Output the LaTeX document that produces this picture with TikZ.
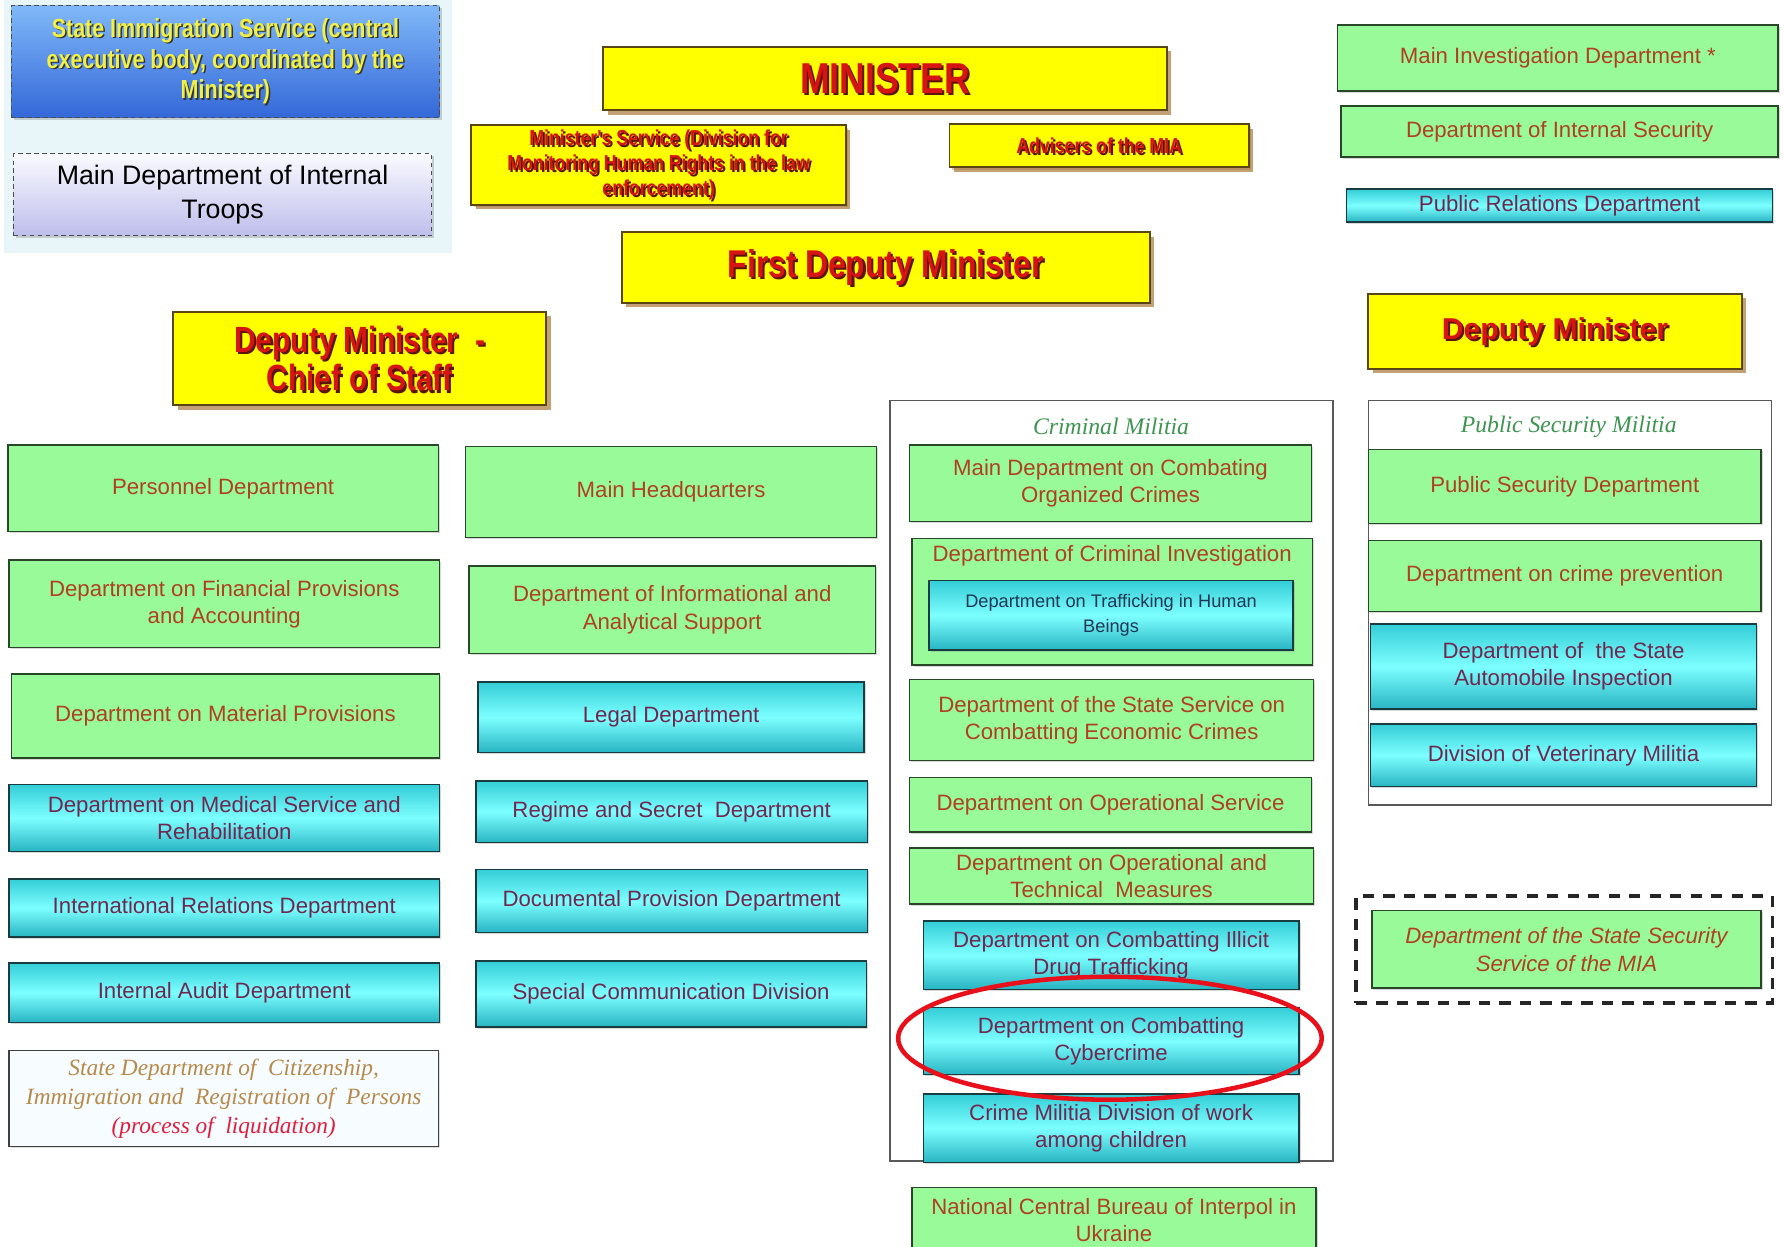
\documentclass[tikz,border=0pt]{standalone}
\usepackage{fontspec}
\setmainfont{Liberation Sans}
\newfontfamily\condf{Liberation Sans}[FakeStretch=0.82]
\newfontfamily\serf{Liberation Serif}
\usetikzlibrary{shadows,shapes.geometric}
\definecolor{grfill}{RGB}{152,250,152}
\definecolor{grline}{RGB}{40,70,40}
\definecolor{grtxt}{RGB}{176,64,32}
\definecolor{cytop}{RGB}{52,205,215}
\definecolor{cymid}{RGB}{125,255,255}
\definecolor{cybot}{RGB}{40,180,195}
\definecolor{cyline}{RGB}{25,60,65}
\definecolor{cytxt}{RGB}{112,40,80}
\definecolor{tbtxt}{RGB}{30,55,85}
\definecolor{ylfill}{RGB}{255,255,0}
\definecolor{ylline}{RGB}{90,70,20}
\definecolor{ylshadow}{RGB}{170,120,60}
\definecolor{titlered}{RGB}{215,20,20}
\definecolor{tshadow}{RGB}{90,20,10}
\definecolor{panel}{RGB}{232,246,250}
\definecolor{sistop}{RGB}{128,184,248}
\definecolor{sisbot}{RGB}{52,104,216}
\definecolor{sistxt}{RGB}{240,240,70}
\definecolor{trtop}{RGB}{250,250,255}
\definecolor{trbot}{RGB}{190,190,236}
\definecolor{mlgreen}{RGB}{60,150,80}
\definecolor{sdctan}{RGB}{184,138,74}
\definecolor{sdcred}{RGB}{225,30,60}
\definecolor{sdcfill}{RGB}{246,252,255}
\definecolor{ellred}{RGB}{232,16,26}
\newcommand\fsz[2]{\fontsize{#1}{#2}\selectfont}
% #1 style, #2 name, #3 x1, #4 y1, #5 x2, #6 y2, #7 text
\newcommand\bx[7]{\node[#1, anchor=north west, minimum width={(#5-#3)*1pt}, minimum height={(#6-#4)*1pt}] (#2) at (#3,#4) {#7};}
% yellow title box: #1 extra, #2 name, #3-#6 coords, #7 font, #8 text
\newcommand\ybx[8]{%
  \node[ylw, #1, anchor=north west, minimum width={(#5-#3)*1pt}, minimum height={(#6-#4)*1pt}] (#2) at (#3,#4) {};
  \node[font={#7}, text=tshadow, align=center, inner sep=0pt] (#2-s) at ([shift={(1.8pt,-1.8pt)}]#2.center) {#8};
  \node[font={#7}, text=titlered, align=center, inner sep=0pt] (#2-t) at (#2.center) {#8};}
\begin{document}
\begin{tikzpicture}[x=1pt,y=-1pt,
  base/.style={draw, rectangle, inner sep=2pt, outer sep=0pt, align=center, line width=1.3pt},
  grn/.style={base, fill=grfill, draw=grline, text=grtxt, font=\fsz{19.5}{24},
    drop shadow={shadow xshift=1.5pt, shadow yshift=-1.5pt, opacity=.3}},
  cyn/.style={base, draw=cyline, top color=cytop, bottom color=cybot, middle color=cymid,
    text=cytxt, font=\fsz{19.5}{24},
    drop shadow={shadow xshift=1.5pt, shadow yshift=-1.5pt, opacity=.3}},
  ylw/.style={base, fill=ylfill, draw=ylline, line width=1.8pt,
    drop shadow={shadow xshift=4pt, shadow yshift=-4pt, fill=ylshadow, opacity=.7}},
  cont/.style={base, draw=black!65, fill=white, line width=1.3pt},
  dcont/.style={base, draw=black!85, line width=3pt, dash pattern=on 10pt off 8pt},
  mlabel/.style={text=mlgreen, font=\serf\itshape\fsz{20.8}{24}, inner sep=0pt},
]
\useasboundingbox[fill=white] (0,0) rectangle (1568,1095);

% top-left panel
\bx{draw=none, fill=panel, inner sep=0pt}{panel}{3}{0}{397}{222}{}
\bx{base, draw=black!70, dash pattern=on 4pt off 3pt, top color=sistop, bottom color=sisbot,
    drop shadow={shadow xshift=2pt, shadow yshift=-2pt, opacity=.35}}{sis}{10}{5}{386}{103}{}
\node[font=\condf\bfseries\fsz{23}{27}, text=black!80, align=center, inner sep=0pt] (sis-s) at ([shift={(1.3pt,-1.3pt)}]sis.center) {State Immigration Service (central\\executive body, coordinated by the\\Minister)};
\node[font=\condf\bfseries\fsz{23}{27}, text=sistxt, align=center, inner sep=0pt] (sis-t) at (sis.center) {State Immigration Service (central\\executive body, coordinated by the\\Minister)};
\bx{base, draw=black!70, dash pattern=on 4pt off 3pt, top color=trtop, bottom color=trbot, text=black,
    font=\fsz{23.5}{30}, drop shadow={shadow xshift=2pt, shadow yshift=-2pt, opacity=.35}}{troops}{12}{135}{379}{207}{Main Department of Internal\\Troops}

% yellow title boxes
\ybx{}{minister}{530}{41}{1025}{97}{\condf\bfseries\fsz{38}{40}}{MINISTER}
\ybx{line width=1.5pt, drop shadow={shadow xshift=2pt, shadow yshift=-2pt, fill=ylshadow, opacity=.4}}{msvc}{414}{110}{743}{180}{\condf\bfseries\fsz{19}{22}}{Minister's Service (Division for\\Monitoring Human Rights in the law\\enforcement)}
\ybx{line width=1.5pt, drop shadow={shadow xshift=2pt, shadow yshift=-2pt, fill=ylshadow, opacity=.4}}{adv}{834}{109}{1097}{147}{\condf\bfseries\fsz{19}{22}}{Advisers of the MIA}
\ybx{}{fdm}{546}{204}{1010}{266}{\condf\bfseries\fsz{34}{36}}{First Deputy Minister}
\ybx{}{dmcs}{152}{274}{480}{356}{\condf\bfseries\fsz{32}{34}}{Deputy Minister\ \ -\\Chief of Staff}
\ybx{}{dm}{1202}{258}{1530}{324}{\bfseries\fsz{26.5}{30}}{Deputy Minister}

% top right
\bx{grn}{mid}{1175}{22}{1562}{80}{Main Investigation Department *}
\bx{grn}{dis}{1178}{93}{1562}{138}{Department of Internal Security}
\bx{cyn}{prd}{1183}{166}{1557}{195}{Public Relations Department}

% left column
\bx{grn}{pers}{7}{391}{385}{467}{Personnel Department}
\bx{grn}{fin}{8}{492}{386}{569}{Department on Financial Provisions\\and Accounting}
\bx{grn}{mat}{10}{592}{386}{666}{Department on Material Provisions}
\bx{cyn}{med}{8}{689}{386}{748}{Department on Medical Service and\\Rehabilitation}
\bx{cyn}{intl}{8}{772}{386}{823}{International Relations Department}
\bx{cyn}{audit}{8}{846}{386}{898}{Internal Audit Department}
\bx{base, draw=black!75, fill=sdcfill, font=\serf\itshape\fsz{20.5}{25.5}, text=sdctan,
    drop shadow={shadow xshift=1.5pt, shadow yshift=-1.5pt, opacity=.25}}{sdc}{8}{923}{385}{1007}{State Department of\ \ Citizenship,\\Immigration and\ \ Registration of\ \ Persons\\\textcolor{sdcred}{(process of\ \ liquidation)}}

% middle column
\bx{grn}{mhq}{409}{392}{770}{472}{Main Headquarters}
\bx{grn}{info}{412}{497}{769}{574}{Department of Informational and\\Analytical Support}
\bx{cyn}{legal}{420}{599}{759}{661}{Legal Department}
\bx{cyn}{regime}{418}{686}{762}{740}{Regime and Secret\ \ Department}
\bx{cyn}{docp}{418}{764}{762}{819}{Documental Provision Department}
\bx{cyn}{spec}{418}{844}{761}{902}{Special Communication Division}

% criminal militia
\bx{cont}{crim}{782}{352}{1171}{1020}{}
\node[mlabel] (crimlbl) at (976,375) {Criminal Militia};
\bx{grn}{oc}{799}{391}{1152}{458}{Main Department on Combating\\Organized Crimes}
\bx{grn}{ci}{801}{473}{1153}{584}{}
\node[text=grtxt, font=\fsz{19.5}{24}, inner sep=0pt] (citxt) at (977,488) {Department of Criminal Investigation};
\bx{cyn, font=\fsz{16}{22}, text=tbtxt}{thb}{816}{510}{1136}{571}{Department on Trafficking in Human\\Beings}
\bx{grn}{econ}{799}{597}{1154}{668}{Department of the State Service on\\Combatting Economic Crimes}
\bx{grn}{ops}{799}{683}{1152}{731}{Department on Operational Service}
\bx{grn}{otm}{799}{745}{1154}{794}{Department on Operational and\\Technical\ \ Measures}
\bx{cyn}{drug}{811}{809}{1141}{869}{Department on Combatting Illicit\\Drug Trafficking}
\bx{cyn}{cyber}{811}{885}{1141}{944}{Department on Combatting\\Cybercrime}
\bx{cyn}{child}{811}{961}{1141}{1021}{Crime Militia\ Division of work\\among children}
\bx{grn}{interpol}{801}{1043}{1156}{1100}{National Central Bureau of Interpol in\\Ukraine}

% public security militia
\bx{cont}{pubs}{1202}{352}{1556}{707}{}
\node[mlabel] (pslbl) at (1378,375) {Public Security Militia};
\bx{grn}{psd}{1202}{395}{1547}{460}{Public Security\ Department}
\bx{grn}{prev}{1202}{475}{1547}{537}{Department on crime prevention}
\bx{cyn}{auto}{1204}{548}{1543}{623}{Department of\ \ the State\\Automobile Inspection}
\bx{cyn}{vet}{1204}{636}{1543}{691}{Division of Veterinary Militia}

% state security service
\bx{dcont}{ssmc}{1191}{787}{1557}{881}{}
\bx{grn, font=\itshape\fsz{19.5}{24}}{ssm}{1205}{800}{1547}{868}{Department of the State Security\\Service of the MIA}

% highlight ring
\node[ellipse, draw=ellred, line width=4pt, minimum width=372pt, minimum height=108pt, inner sep=0pt] (ring) at (975,912) {};
\end{tikzpicture}
\end{document}
